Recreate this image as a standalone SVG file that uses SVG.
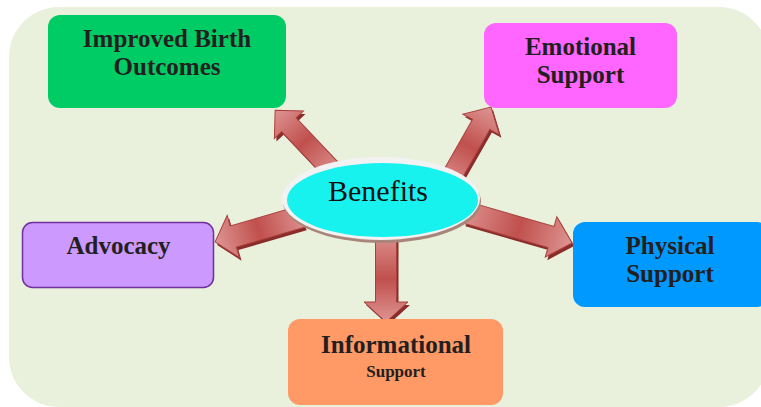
<svg xmlns="http://www.w3.org/2000/svg" width="761" height="407" viewBox="0 0 761 407">
<defs>
<linearGradient id="ag" x1="0" y1="0" x2="1" y2="0">
<stop offset="0" stop-color="#DC8E8C"/>
<stop offset="0.5" stop-color="#C0504D"/>
<stop offset="1" stop-color="#DE9593"/>
</linearGradient>
<style>
.arrow{fill:url(#ag);stroke:#A8403D;stroke-width:1}
.ashadow{fill:#8A2C2A}
.box{stroke:none}
.t{font-family:"Liberation Serif","Times New Roman",serif;font-weight:bold;font-size:25px;fill:#231F20;text-anchor:middle}
.ts{font-size:17px}
.c{font-family:"Liberation Serif","Times New Roman",serif;font-size:30px;fill:#111;text-anchor:middle}
</style>
</defs>
<rect x="0" y="0" width="761" height="407" fill="#FFFFFF"/>
<rect x="9" y="7" width="760" height="400" rx="50" fill="#E9F0DC"/>

<g id="connectors">
<g transform="translate(328,167) rotate(-133.4)"><path class="ashadow" d="M-12,-10 H54 V-20 L74,0 L54,20 V10 H-12 Z"/></g>
<g transform="translate(326,164) rotate(-133.4)"><path class="arrow" d="M-12,-10 H54 V-20 L74,0 L54,20 V10 H-12 Z"/></g>

<g transform="translate(455,177) rotate(-60.4)"><path class="ashadow" d="M-12,-10 H57 V-21 L77,0 L57,21 V10 H-12 Z"/></g>
<g transform="translate(453,174) rotate(-60.4)"><path class="arrow" d="M-12,-10 H57 V-21 L77,0 L57,21 V10 H-12 Z"/></g>

<g transform="translate(292,223) rotate(163.7)"><path class="ashadow" d="M-12,-11 H59 V-22 L78,0 L59,22 V11 H-12 Z"/></g>
<g transform="translate(290,220) rotate(163.7)"><path class="arrow" d="M-12,-11 H59 V-22 L78,0 L59,22 V11 H-12 Z"/></g>

<g transform="translate(480,219) rotate(16)"><path class="ashadow" d="M-12,-11 H76 V-21 L98,0 L76,21 V11 H-12 Z"/></g>
<g transform="translate(478,216) rotate(16)"><path class="arrow" d="M-12,-11 H76 V-21 L98,0 L76,21 V11 H-12 Z"/></g>

<g transform="translate(388,251) rotate(90)"><path class="ashadow" d="M-12,-10.5 H54 V-22 L74,0 L54,22 V10.5 H-12 Z"/></g>
<g transform="translate(386,248) rotate(90)"><path class="arrow" d="M-12,-10.5 H54 V-22 L74,0 L54,22 V10.5 H-12 Z"/></g>
</g>

<g id="benefits">
<ellipse cx="382" cy="201.5" rx="99" ry="41.5" fill="#A8857A"/>
<ellipse cx="381" cy="198.5" rx="99" ry="41.5" fill="#F2F2F2"/>
<ellipse cx="382.5" cy="200" rx="95.5" ry="37" fill="#18F2EE"/>
<text class="c" x="378" y="201">Benefits</text>
</g>

<g id="birth">
<rect class="box" x="48" y="15" width="238" height="93" rx="12" fill="#00CC66"/>
<text class="t" x="167" y="47">Improved Birth</text>
<text class="t" x="167" y="75">Outcomes</text>
</g>

<g id="emotional">
<rect class="box" x="484" y="23" width="193" height="85" rx="12" fill="#FF66FF"/>
<text class="t" x="580.5" y="55">Emotional</text>
<text class="t" x="580.5" y="83">Support</text>
</g>

<g id="advocacy">
<rect x="22.5" y="222.5" width="191" height="65" rx="10" fill="#CC99FF" stroke="#7030A0" stroke-width="1.5"/>
<text class="t" x="118.5" y="254">Advocacy</text>
</g>

<g id="physical">
<rect class="box" x="573" y="222" width="196" height="85" rx="12" fill="#0099FF"/>
<text class="t" x="670" y="254">Physical</text>
<text class="t" x="670" y="282">Support</text>
</g>

<g id="informational">
<rect class="box" x="288" y="319" width="215" height="86" rx="12" fill="#FF9966"/>
<text class="t" x="396" y="353">Informational</text>
<text class="t ts" x="396" y="377">Support</text>
</g>
</svg>
